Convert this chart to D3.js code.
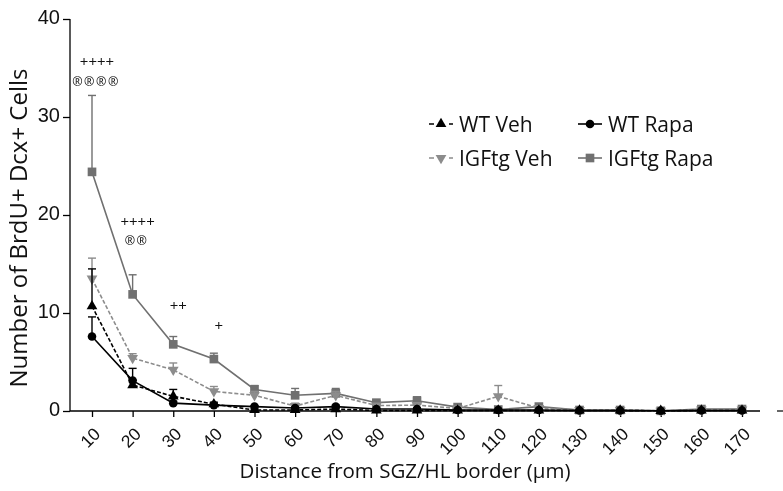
<!DOCTYPE html>
<html>
<head>
<meta charset="utf-8">
<script src="https://cdn.jsdelivr.net/npm/d3@7"></script>
<style>
  body { margin: 0; background: #fff; }
  svg { font-family: "Open Sans", "Noto Sans", sans-serif; will-change: transform; }
  text { fill: #111; }
  .axis path, .axis line { stroke: #000; stroke-width: 1.3; }
</style>
</head>
<body>
<div id="chart"></div>
<script>
// distance bins (µm)
const distances = [10, 20, 30, 40, 50, 60, 70, 80, 90, 100, 110, 120, 130, 140, 150, 160, 170];

// mean number of BrdU+ Dcx+ cells per bin, and the upper SEM
const wtVeh      = [10.7, 2.65, 1.5, 0.7, 0.1, 0.1, 0.2, 0.05, 0.05, 0.05, 0.05, 0.05, 0.05, 0.05, 0.02, 0.05, 0.05];
const wtVehErr   = [3.8, 0.5, 0.7, 0.2, 0.1, 0.1, 0.1, 0.05, 0.05, 0.05, 0.05, 0.05, 0.05, 0.05, 0.02, 0.05, 0.05];
const wtRapa     = [7.6, 3.1, 0.8, 0.6, 0.45, 0.3, 0.45, 0.2, 0.2, 0.1, 0.1, 0.1, 0.05, 0.05, 0.02, 0.05, 0.05];
const wtRapaErr  = [2.0, 1.25, 0.2, 0.2, 0.1, 0.1, 0.15, 0.1, 0.1, 0.05, 0.05, 0.05, 0.05, 0.05, 0.02, 0.05, 0.05];
const igfVeh     = [13.5, 5.4, 4.2, 2.0, 1.6, 0.5, 1.6, 0.55, 0.6, 0.25, 1.5, 0.3, 0.1, 0.1, 0.02, 0.15, 0.15];
const igfVehErr  = [2.1, 0.45, 0.7, 0.5, 0.4, 0.3, 0.4, 0.2, 0.2, 0.1, 1.1, 0.1, 0.05, 0.05, 0.02, 0.05, 0.05];
const igfRapa    = [24.4, 11.9, 6.8, 5.3, 2.2, 1.6, 1.8, 0.85, 1.05, 0.4, 0.15, 0.45, 0.1, 0.1, 0.02, 0.2, 0.2];
const igfRapaErr = [7.8, 2.0, 0.8, 0.6, 0.4, 0.7, 0.5, 0.2, 0.4, 0.1, 0.1, 0.1, 0.05, 0.05, 0.02, 0.05, 0.05];

const yTicks = [0, 10, 20, 30, 40];

// significance marks (distance bin, height in cell units, "+" row, "®" row)
const sigMarks = [
  {x: 10, y: 35.6, plus: "++++", rapa: "®®®®"},
  {x: 20, y: 19.3, plus: "++++", rapa: "®®"},
  {x: 30, y: 10.7, plus: "++",   rapa: ""},
  {x: 40, y: 8.7,  plus: "+",    rapa: ""}
];

const series = [
  {name: "IGFtg Rapa", values: igfRapa, err: igfRapaErr, color: "#707070", dash: null,  symbol: d3.symbolSquare,   size: 75, legend: [1, 1]},
  {name: "IGFtg Veh",  values: igfVeh,  err: igfVehErr,  color: "#8c8c8c", dash: "4,2", symbol: d3.symbolTriangle, size: 50, flip: true, legend: [1, 0]},
  {name: "WT Veh",     values: wtVeh,   err: wtVehErr,   color: "#000",    dash: "4,2", symbol: d3.symbolTriangle, size: 50, legend: [0, 0]},
  {name: "WT Rapa",    values: wtRapa,  err: wtRapaErr,  color: "#000",    dash: null,  symbol: d3.symbolCircle,   size: 58, legend: [0, 1]}
];

const width = 783, height = 491;
const margin = {top: 19, right: 23, bottom: 80, left: 70};

const svg = d3.select("#chart").append("svg")
  .attr("width", width)
  .attr("height", height);

const x = d3.scalePoint()
  .domain(distances)
  .range([92, 742]);

const y = d3.scaleLinear()
  .domain([0, 40])
  .range([411, 19]);

// axes
const yAxis = svg.append("g")
  .attr("class", "axis")
  .attr("transform", `translate(${margin.left},0)`)
  .call(d3.axisLeft(y).tickValues(yTicks).tickSize(7).tickPadding(3).tickSizeOuter(0));
yAxis.select(".domain").attr("d", `M0,${y(0)}V${y(40)}`);
yAxis.selectAll("text")
  .attr("dy", "0.22em")
  .attr("fill", "#111")
  .style("font-size", "20px");

const xAxis = svg.append("g")
  .attr("class", "axis")
  .attr("transform", `translate(0,${y(0)})`)
  .call(d3.axisBottom(x).tickSize(6).tickSizeOuter(0));
xAxis.select(".domain").attr("d", `M${margin.left},0H${width - margin.right}`);
xAxis.selectAll("text")
  .attr("text-anchor", "end")
  .attr("dy", null)
  .attr("y", null)
  .attr("fill", "#111")
  .attr("transform", "translate(9,24) rotate(-45)")
  .style("font-size", "17.5px");

// small stub at right edge
svg.append("line")
  .attr("x1", 777).attr("x2", 783)
  .attr("y1", y(0)).attr("y2", y(0))
  .attr("stroke", "#000").attr("stroke-width", 1.2);

// axis titles
svg.append("text")
  .attr("transform", `translate(27,${228}) rotate(-90)`)
  .attr("text-anchor", "middle")
  .style("font-size", "24px")
  .text("Number of BrdU+ Dcx+ Cells");

svg.append("text")
  .attr("x", 405)
  .attr("y", 478)
  .attr("text-anchor", "middle")
  .style("font-size", "20.5px")
  .text("Distance from SGZ/HL border (µm)");

const line = d3.line()
  .x((d, i) => x(distances[i]))
  .y(d => y(d));

const plot = svg.append("g");

series.forEach(s => {
  const g = plot.append("g").attr("class", "series");

  // upward error bars with caps
  const eb = g.selectAll(".err")
    .data(s.values.map((v, i) => ({x: distances[i], v: v, e: s.err[i]})))
    .enter().append("g").attr("class", "err");
  eb.append("line")
    .attr("x1", d => x(d.x)).attr("x2", d => x(d.x))
    .attr("y1", d => y(d.v)).attr("y2", d => y(d.v + d.e))
    .attr("stroke", s.color).attr("stroke-width", 1.4);
  eb.append("line")
    .attr("x1", d => x(d.x) - 4).attr("x2", d => x(d.x) + 4)
    .attr("y1", d => y(d.v + d.e)).attr("y2", d => y(d.v + d.e))
    .attr("stroke", s.color).attr("stroke-width", 1.4);

  g.append("path")
    .datum(s.values)
    .attr("d", line)
    .attr("fill", "none")
    .attr("stroke", s.color)
    .attr("stroke-width", 1.6)
    .attr("stroke-dasharray", s.dash);

  g.selectAll(".pt")
    .data(s.values)
    .enter().append("path")
    .attr("class", "pt")
    .attr("d", d3.symbol().type(s.symbol).size(s.size))
    .attr("transform", (d, i) => `translate(${x(distances[i])},${y(d)})${s.flip ? " rotate(180)" : ""}`)
    .attr("fill", s.color);
});

// significance labels: one text per bin, "®" row as a second line
const sig = svg.selectAll(".sig")
  .data(sigMarks)
  .enter().append("text")
  .attr("class", "sig")
  .attr("text-anchor", "middle")
  .attr("y", d => y(d.y) + 5);
sig.append("tspan")
  .attr("x", d => x(d.x) + 5)
  .style("font-size", "15px")
  .text(d => d.plus);
sig.filter(d => d.rapa).append("tspan")
  .attr("x", d => x(d.x) + 4)
  .attr("dy", 18.5)
  .style("font-size", "12.5px")
  .style("letter-spacing", "1.5px")
  .text(d => d.rapa);

// legend
const legend = svg.append("g").attr("transform", "translate(429,124)");
series.forEach(s => {
  const lg = legend.append("g")
    .attr("transform", `translate(${s.legend[1] * 149},${s.legend[0] * 34})`);
  lg.append("line")
    .attr("x1", 0).attr("x2", 24).attr("y1", 0).attr("y2", 0)
    .attr("stroke", s.color).attr("stroke-width", 1.6)
    .attr("stroke-dasharray", s.dash ? "5,5" : null);
  lg.append("path")
    .attr("d", d3.symbol().type(s.symbol).size(s.size))
    .attr("transform", `translate(12,0)${s.flip ? " rotate(180)" : ""}`)
    .attr("fill", s.color);
  lg.append("text")
    .attr("x", 30)
    .attr("y", 7.5)
    .style("font-size", "21px")
    .text(s.name);
});
</script>
</body>
</html>
